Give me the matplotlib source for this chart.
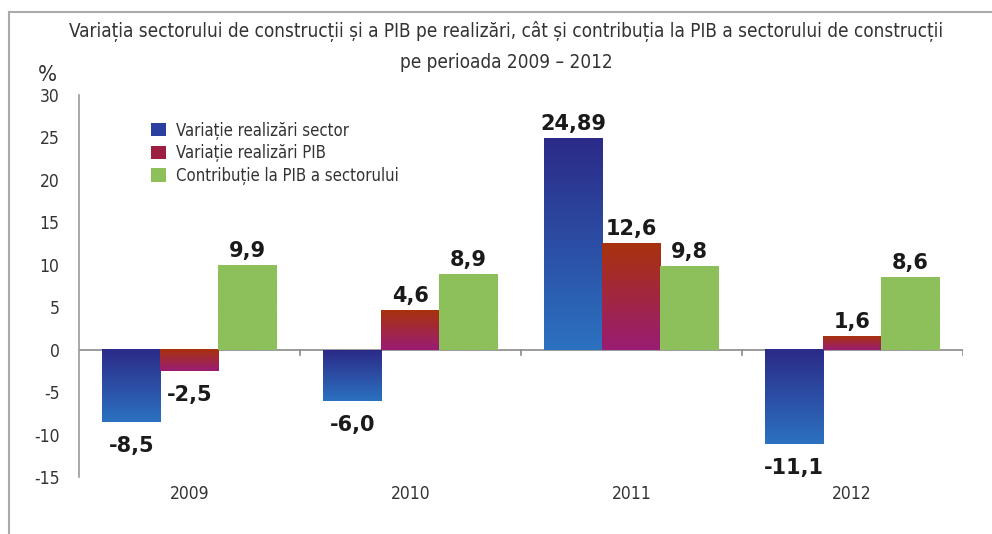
import numpy as np
import matplotlib.pyplot as plt
from matplotlib.colors import LinearSegmentedColormap
from matplotlib.patches import Patch
from matplotlib.lines import Line2D

plt.rcParams['axes.unicode_minus'] = False

# data
years = ['2009', '2010', '2011', '2012']
series_names = ['Variație realizări sector', 'Variație realizări PIB',
                'Contribuție la PIB a sectorului']
sector = [-8.5, -6.0, 24.89, -11.1]
pib = [-2.5, 4.6, 12.6, 1.6]
contrib = [9.9, 8.9, 9.8, 8.6]
sector_lbl = ['-8,5', '-6,0', '24,89', '-11,1']
pib_lbl = ['-2,5', '4,6', '12,6', '1,6']
contrib_lbl = ['9,9', '8,9', '9,8', '8,6']

# gradients: top colour -> bottom colour
cmaps = [LinearSegmentedColormap.from_list('b', ['#2b2a88', '#2c72c0']),
         LinearSegmentedColormap.from_list('r', ['#a8320c', '#9a1c74']),
         LinearSegmentedColormap.from_list('g', ['#8dc05b', '#8dc05b'])]
legend_cols = ['#2a3f9f', '#9c1e40', '#8dc05b']

cond = dict(family='DejaVu Sans', stretch='condensed')

fig = plt.figure(figsize=(9.92, 5.34), dpi=100)
ax = fig.add_axes([0.0796, 0.1067, 0.8908, 0.7153])

n = len(years)
w = 0.263
x = np.arange(n)
grad = np.linspace(0, 1, 256).reshape(-1, 1)

for k, (vals, lbls) in enumerate([(sector, sector_lbl), (pib, pib_lbl), (contrib, contrib_lbl)]):
    xs = x + (k - 1) * w
    bars = ax.bar(xs, vals, w, color='none', edgecolor='none', zorder=2)
    for b, v, lb in zip(bars, vals, lbls):
        x0, x1 = b.get_x(), b.get_x() + b.get_width()
        lo, hi = min(0, v), max(0, v)
        ax.imshow(grad, cmap=cmaps[k], aspect='auto', extent=[x0, x1, lo, hi],
                  origin='upper', zorder=2, interpolation='bicubic')
        off, va = ((0, 3), 'bottom') if v >= 0 else ((0, -10), 'top')
        ax.annotate(lb, (b.get_x() + w / 2, v), xytext=off, textcoords='offset points',
                    ha='center', va=va, fontsize=15, fontweight='bold',
                    family='DejaVu Sans', color='#1a1a1a')

ax.set_xlim(-0.5, n - 0.5)
ax.set_ylim(-15, 30)
ax.set_yticks(range(-15, 31, 5))
ax.set_xticks(x)
ax.set_xticklabels(years)
for s in ['top', 'right', 'bottom']:
    ax.spines[s].set_visible(False)
ax.spines['left'].set_color('#9a9a9a')
ax.spines['left'].set_linewidth(1.2)
ax.tick_params(axis='both', length=0, labelsize=12.5, colors='#333333')
ax.tick_params(axis='y', pad=14)
ax.tick_params(axis='x', pad=6)
for t in ax.get_yticklabels() + ax.get_xticklabels():
    t.set_fontstretch('condensed')

# zero line with small ticks at category boundaries
ax.axhline(0, color='#8a8a8a', lw=1.2, zorder=1)
for b in np.arange(n) + 0.5:
    ax.plot([b, b], [0, -0.6], color='#8a8a8a', lw=1.2, zorder=1)

handles = [Patch(facecolor=c, edgecolor='none') for c in legend_cols]
ax.legend(handles, series_names, loc='upper left', bbox_to_anchor=(0.065, 0.97),
          frameon=False, prop={'family': 'DejaVu Sans', 'stretch': 'condensed', 'size': 12},
          handlelength=0.85, handleheight=0.85, handletextpad=0.6, labelspacing=0.28,
          labelcolor='#333333')

fig.text(0.51, 1 - 32 / 534, 'Variația sectorului de construcții și a PIB pe realizări, cât și contribuția la PIB a sectorului de construcții',
         ha='center', va='center', fontsize=13.6, color='#333333', **cond)
fig.text(0.51, 1 - 62 / 534, 'pe perioada 2009 – 2012',
         ha='center', va='center', fontsize=13.6, color='#333333', **cond)
fig.text(0.048, 1 - 75 / 534, '%', ha='center', va='center', fontsize=16,
         color='#333333', **cond)

# outer frame lines
fig.add_artist(Line2D([9 / 992, 9 / 992], [0, 1 - 12 / 534], color='#aaaaaa', lw=1.5))
fig.add_artist(Line2D([9 / 992, 1], [1 - 12 / 534, 1 - 12 / 534], color='#aaaaaa', lw=1.5))

fig.savefig('out.png', dpi=100)
